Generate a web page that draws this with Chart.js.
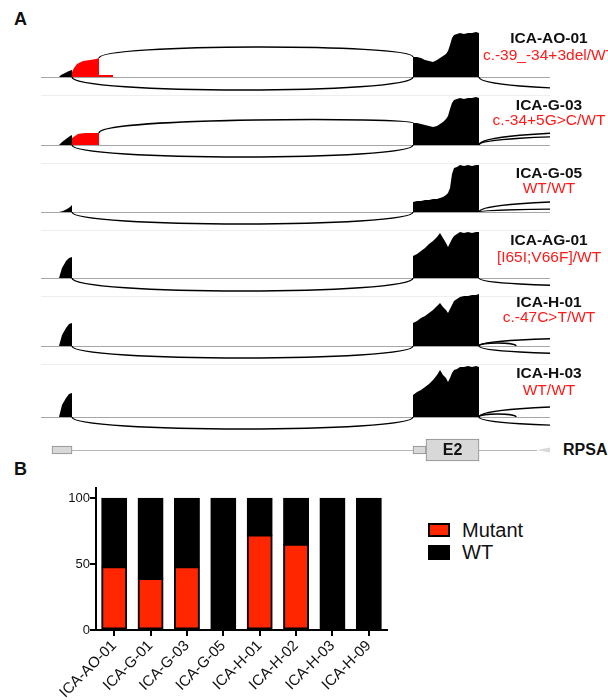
<!DOCTYPE html>
<html>
<head>
<meta charset="utf-8">
<script src="https://cdn.jsdelivr.net/npm/chart.js@4.4.0/dist/chart.umd.min.js"></script>
<style>
  body { margin: 0; width: 608px; height: 700px; overflow: hidden; background: #fff; position: relative;
         font-family: Arial, "Liberation Sans", sans-serif; }
  canvas { position: absolute; }
  .abs { position: absolute; white-space: nowrap; }
  .panel { font-weight: bold; font-size: 18px; line-height: 20px; color: #111; }
  .name { left: 449px; width: 200px; text-align: center; font-weight: bold; font-size: 15.5px; line-height: 18px; color: #111; }
  .geno { left: 449px; width: 200px; text-align: center; font-size: 15.5px; line-height: 18px; color: #ff1a1a; }
  .key { font-size: 20px; line-height: 24px; color: #111; }
</style>
</head>
<body>
<div class="abs panel" style="left:14px; top:9px;">A</div>
<div class="abs panel" style="left:14px; top:459px;">B</div>
<div class="abs" style="left:563px; top:441px; font-weight:bold; font-size:16px; line-height:18px; color:#111;">RPSA</div>

<div class="abs" style="left:428px; top:523px; width:18px; height:10px; border:2px solid #000; background:#ff2600;"></div>
<div class="abs key" style="left:462px; top:518px;">Mutant</div>
<div class="abs" style="left:428px; top:545px; width:18px; height:11px; border:2px solid #000; background:#000;"></div>
<div class="abs key" style="left:462px; top:540px;">WT</div>

<script>
// ---- panel A: sashimi tracks (positions in bp from track start, coverage in arbitrary units)
const sampleNames = ['ICA-AO-01', 'ICA-G-03', 'ICA-G-05', 'ICA-AG-01', 'ICA-H-01', 'ICA-H-03'];
const genotypes = ['c.-39_-34+3del/WT', 'c.-34+5G>C/WT', 'WT/WT', '[I65I;V66F]/WT', 'c.-47C>T/WT', 'WT/WT'];

// exon 1 (black part)
const exon1Cov = [
  [[36, 0], [40, 2], [48, 4], [56, 6], [62, 7]],
  [[36, 0], [42, 3], [50, 6], [58, 9], [62, 10]],
  [[36, 0], [44, 1], [52, 3], [58, 5], [62, 7]],
  [[36, 0], [42, 10], [50, 17], [56, 20], [62, 21]],
  [[36, 0], [42, 11], [50, 18], [56, 22], [62, 23]],
  [[36, 0], [42, 12], [50, 19], [56, 23], [62, 24]]
];
// extended exon 1 reads (red)
const redCov = [
  [[62, 5], [66, 9], [72, 13], [84, 16], [98, 17], [110, 18], [116, 19], [116, 2], [144, 2]],
  [[62, 7], [74, 11], [88, 12], [104, 12], [116, 12]],
  null, null, null, null
];
// exon 2
const exon2Pos = [744, 752, 760, 768, 776, 784, 792, 798, 804, 810, 814, 818, 822, 826, 832, 838, 846, 854, 862, 870, 876];
const exon2Cov = [
  [20, 20, 19, 17, 16, 15, 17, 19, 21, 23, 26, 32, 39, 42, 43, 44, 43, 44, 44, 45, 44],
  [22, 22, 21, 20, 19, 18, 19, 21, 23, 26, 29, 36, 42, 45, 46, 47, 46, 47, 47, 48, 47],
  [10, 11, 11, 12, 12, 13, 13, 14, 15, 17, 19, 24, 38, 44, 45, 47, 46, 47, 46, 47, 47],
  [22, 24, 27, 30, 34, 37, 41, 45, 40, 35, 31, 35, 39, 42, 44, 46, 45, 46, 45, 46, 46],
  [23, 25, 28, 30, 33, 36, 40, 43, 39, 36, 33, 37, 41, 45, 47, 49, 50, 50, 51, 51, 52],
  [22, 25, 27, 30, 33, 37, 42, 47, 42, 39, 35, 39, 44, 47, 48, 50, 50, 51, 50, 51, 50]
];
// splice junctions: [from, to, height at from, height at to, arc peak]
const junctions = [
  [[116, 744, 19, 20, 30], [62, 744, 0, 0, -13], [876, 1400, 0, 0, -12]],
  [[116, 744, 12, 22, 25], [62, 744, 0, 0, -12], [876, 1400, 0, 0, 13], [876, 1400, 0, 0, 9]],
  [[62, 744, 0, 0, -12], [876, 1400, 0, 0, 11], [876, 1300, 0, 0, 3]],
  [[62, 744, 0, 0, -13], [876, 1400, 0, 0, -8]],
  [[62, 744, 0, 0, -12], [876, 1400, 0, 0, 8], [876, 1400, 0, 0, -8], [876, 950, 0, 0, 3]],
  [[62, 744, 0, 0, -12], [876, 1400, 0, 0, 11], [876, 1400, 0, 0, -9], [876, 950, 0, 0, 3]]
];

// gene model
const geneExons = [[22, 62], [744, 770], [770, 876]];
const geneExonLabels = ['', '', 'E2'];
const geneIntrons = [[62, 744], [876, 992]];
const geneTail = [992, 1018];

// ---- panel B
const samples = ['ICA-AO-01', 'ICA-G-01', 'ICA-G-03', 'ICA-G-05', 'ICA-H-01', 'ICA-H-02', 'ICA-H-03', 'ICA-H-09'];
const mutantPct = [48, 39, 48, 0, 72, 65, 0, 0];
const wtPct = [52, 61, 52, 100, 28, 35, 100, 100];
const yTicks = [0, 50, 100];

Chart.defaults.font.family = 'Arial, "Liberation Sans", sans-serif';
Chart.defaults.animation = false;

// layout
const trackLeft = 41, trackWidth = 509;
const baselines = [77, 145, 212, 278, 346, 417];
const nameY = [38, 105, 173, 240, 302, 373];
const genoY = [55, 120, 188, 257, 317, 390];
const yMin = -19, yMax = 52;

function addCanvas(left, top, w, h) {
  const c = document.createElement('canvas');
  c.width = w; c.height = h;
  c.style.left = left + 'px'; c.style.top = top + 'px';
  document.body.appendChild(c);
  return c;
}

function addText(cls, text, cy) {
  const d = document.createElement('div');
  d.className = 'abs ' + cls;
  d.textContent = text;
  d.style.top = (cy - 9) + 'px';
  document.body.appendChild(d);
}

const toPts = arr => arr.map(([x, y]) => ({ x, y }));

const sashimiPlugin = {
  id: 'sashimi',
  beforeDatasetsDraw(chart) {
    const { ctx, chartArea, scales: { y } } = chart;
    ctx.save();
    ctx.strokeStyle = '#a6a6a6';
    ctx.lineWidth = 1;
    const y0 = Math.round(y.getPixelForValue(0)) + 0.5;
    ctx.beginPath(); ctx.moveTo(chartArea.left, y0); ctx.lineTo(chartArea.right, y0); ctx.stroke();
    if (chart.options.plugins.sashimi.separator) {
      ctx.strokeStyle = '#eeeeee';
      const yb = Math.round(y.getPixelForValue(yMin)) - 0.5;
      ctx.beginPath(); ctx.moveTo(chartArea.left - 6, yb); ctx.lineTo(chartArea.right, yb); ctx.stroke();
    }
    ctx.restore();
  },
  afterDatasetsDraw(chart) {
    const { ctx, chartArea, scales: { x, y } } = chart;
    ctx.save();
    ctx.beginPath();
    ctx.rect(chartArea.left, chartArea.top, chartArea.width, chartArea.height);
    ctx.clip();
    ctx.strokeStyle = '#000';
    ctx.lineWidth = 1.4;
    chart.options.plugins.sashimi.junctions.forEach(([a, b, ya, yb, peak]) => {
      const c = (peak - (ya + yb) / 8) / 0.75;
      const xa = x.getPixelForValue(a), xb = x.getPixelForValue(b);
      ctx.beginPath();
      ctx.moveTo(xa, y.getPixelForValue(ya));
      ctx.bezierCurveTo(xa, y.getPixelForValue(c), xb, y.getPixelForValue(c), xb, y.getPixelForValue(yb));
      ctx.stroke();
    });
    ctx.restore();
  }
};

sampleNames.forEach((name, i) => {
  const top = baselines[i] - yMax;
  const cv = addCanvas(trackLeft, top, trackWidth, yMax - yMin);
  const e1 = toPts(exon1Cov[i]);
  e1.push({ x: e1[e1.length - 1].x, y: 0 });
  const e2 = [{ x: exon2Pos[0], y: 0 }]
    .concat(exon2Pos.map((p, k) => ({ x: p, y: exon2Cov[i][k] })))
    .concat([{ x: exon2Pos[exon2Pos.length - 1], y: 0 }]);
  const datasets = [
    { data: e1, backgroundColor: '#000' },
    { data: e2, backgroundColor: '#000' }
  ];
  if (redCov[i]) {
    const r = toPts(redCov[i]);
    r.unshift({ x: r[0].x, y: 0 });
    r.push({ x: r[r.length - 1].x, y: 0 });
    datasets.push({ data: r, backgroundColor: '#ff0000' });
  }
  datasets.forEach(d => Object.assign(d, { fill: 'origin', borderWidth: 0, pointRadius: 0, tension: 0 }));

  new Chart(cv, {
    type: 'line',
    data: { datasets },
    options: {
      responsive: false,
      layout: { padding: 0 },
      scales: {
        x: { type: 'linear', min: 0, max: 1018, display: false },
        y: { min: yMin, max: yMax, display: false }
      },
      plugins: {
        legend: { display: false },
        tooltip: { enabled: false },
        sashimi: { junctions: junctions[i], separator: i < sampleNames.length - 1 }
      }
    },
    plugins: [sashimiPlugin]
  });

  addText('name', name, nameY[i]);
  addText('geno', genotypes[i], genoY[i]);
});

// gene model
const genePlugin = {
  id: 'gene',
  beforeDatasetsDraw(chart) {
    const { ctx, scales: { x, y } } = chart;
    const yc = Math.round(y.getPixelForValue(0)) + 0.5;
    ctx.save();
    ctx.strokeStyle = '#b5b5b5';
    ctx.lineWidth = 1;
    geneIntrons.forEach(([a, b]) => {
      ctx.beginPath(); ctx.moveTo(x.getPixelForValue(a), yc); ctx.lineTo(x.getPixelForValue(b), yc); ctx.stroke();
    });
    ctx.fillStyle = '#d8d8d8';
    ctx.beginPath();
    ctx.moveTo(x.getPixelForValue(geneTail[0]), yc - 0.5);
    ctx.lineTo(x.getPixelForValue(geneTail[1]), yc - 3);
    ctx.lineTo(x.getPixelForValue(geneTail[1]), yc + 2);
    ctx.closePath();
    ctx.fill();
    ctx.restore();
  },
  afterDatasetsDraw(chart) {
    const { ctx, scales: { x, y } } = chart;
    ctx.save();
    ctx.fillStyle = '#111';
    ctx.font = 'bold 16px Arial, "Liberation Sans", sans-serif';
    ctx.textAlign = 'center';
    ctx.textBaseline = 'middle';
    geneExons.forEach(([a, b], k) => {
      if (geneExonLabels[k]) ctx.fillText(geneExonLabels[k], x.getPixelForValue((a + b) / 2), y.getPixelForValue(0) + 1);
    });
    ctx.restore();
  }
};

const geneCanvas = addCanvas(trackLeft, 438, trackWidth, 24);
new Chart(geneCanvas, {
  type: 'bar',
  data: {
    labels: ['RPSA'],
    datasets: geneExons.map(([a, b], k) => ({
      data: [[a, b]],
      grouped: false,
      barThickness: geneExonLabels[k] ? 22 : 8,
      backgroundColor: '#d8d8d8',
      borderColor: '#8c8c8c',
      borderWidth: 1,
      borderSkipped: false
    }))
  },
  options: {
    responsive: false,
    indexAxis: 'y',
    layout: { padding: 0 },
    scales: {
      x: { type: 'linear', min: 0, max: 1018, display: false },
      y: { display: false }
    },
    plugins: { legend: { display: false }, tooltip: { enabled: false } }
  },
  plugins: [genePlugin]
});

// panel B: stacked bars
const barCanvas = addCanvas(0, 480, 400, 220);
new Chart(barCanvas, {
  type: 'bar',
  data: {
    labels: samples,
    datasets: [
      { label: 'Mutant', data: mutantPct, backgroundColor: '#ff2600' },
      { label: 'WT', data: wtPct, backgroundColor: '#000' }
    ].map(d => Object.assign(d, {
      borderColor: '#000', borderWidth: 2, borderSkipped: false, inflateAmount: 0.6,
      barPercentage: 0.68, categoryPercentage: 1
    }))
  },
  options: {
    responsive: false,
    layout: { padding: { top: 5, right: 13, left: 0, bottom: 0 } },
    scales: {
      x: {
        stacked: true,
        grid: { display: true, drawOnChartArea: false, offset: false, tickLength: 6, color: '#000', lineWidth: 2 },
        border: { color: '#000', width: 2 },
        ticks: { minRotation: 45, maxRotation: 45, color: '#111', font: { size: 15 }, padding: 1 },
        afterFit(s) { s.height = 70; }
      },
      y: {
        stacked: true,
        min: 0,
        max: 108,
        afterBuildTicks(s) { s.ticks = yTicks.map(v => ({ value: v })); },
        grid: { drawOnChartArea: false, tickLength: 6, color: '#000', lineWidth: 2 },
        border: { color: '#000', width: 2 },
        ticks: { color: '#111', font: { size: 13 }, padding: 0 },
        afterFit(s) { s.width = 96; }
      }
    },
    plugins: { legend: { display: false }, tooltip: { enabled: false } }
  }
});
</script>
</body>
</html>
